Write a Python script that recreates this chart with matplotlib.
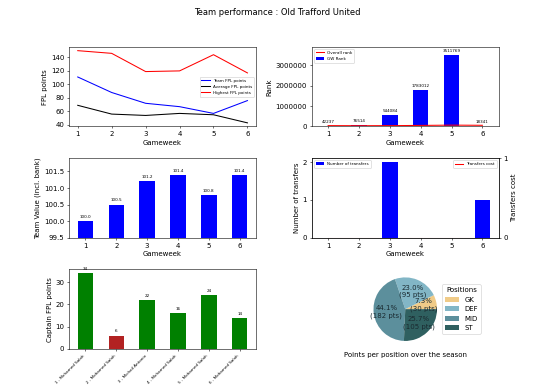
import numpy as np
import matplotlib
matplotlib.use("Agg")
import matplotlib.pyplot as plt
from matplotlib.ticker import MultipleLocator

# Data
gameweeks = [1, 2, 3, 4, 5, 6]
team_points = [111, 88, 72, 67, 57, 76]
average_points = [69, 56, 54, 57, 55, 43]
highest_points = [150, 146, 119, 120, 144, 117]

gw_rank = [42237, 76514, 544084, 1783012, 3511769, 18341]
overall_rank = [42237, 38000, 41000, 52000, 66000, 58000]

team_value = [100.0, 100.5, 101.2, 101.4, 100.8, 101.4]

n_transfers = [0, 0, 2, 0, 0, 1]
transfer_cost = [0, 0, 0, 0, 0, 0]

captain_names = ["1 - Mohamed Salah", "2 - Mohamed Salah", "3 - Michail Antonio",
                 "4 - Mohamed Salah", "5 - Mohamed Salah", "6 - Mohamed Salah"]
captain_points = [34, 6, 22, 16, 24, 14]
captain_colors = ["green", "firebrick", "green", "green", "green", "green"]

positions = ["GK", "DEF", "MID", "ST"]
position_share = [7.3, 23.0, 44.1, 25.7]
position_points = [30, 95, 182, 105]
position_colors = ["#F0CB88", "#82B6C6", "#5C8F9C", "#2F6060"]

fig, axes = plt.subplots(3, 2, figsize=(11.08, 7.84), dpi=50)
plt.subplots_adjust(hspace=0.4, wspace=0.3)
fig.suptitle("Team performance : Old Trafford United")

#Points per gameweek
ax = axes[0, 0]
ax.plot(gameweeks, team_points, color="blue", label="Team FPL points")
ax.plot(gameweeks, average_points, color="black", label="Average FPL points")
ax.plot(gameweeks, highest_points, color="red", label="Highest FPL points")
ax.yaxis.set_major_locator(MultipleLocator(20))
ax.set_xlabel("Gameweek")
ax.set_ylabel("FPL points")
ax.legend(loc="center right", fontsize=6)

#Ranks
ax = axes[0, 1]
ax.plot(gameweeks, overall_rank, color="red", label="Overall rank")
ax.bar(gameweeks, gw_rank, width=0.5, color="blue", label="GW Rank")
for x, v in zip(gameweeks, gw_rank):
    ax.annotate(str(v), (x, v), xytext=(0, 3), textcoords="offset points",
                ha="center", va="bottom", fontsize=6)
ax.set_ylim(0, max(gw_rank) * 1.11)
ax.ticklabel_format(axis="y", style="plain")
ax.set_xlabel("Gameweek")
ax.set_ylabel("Rank")
ax.legend(loc="upper left", fontsize=6)

#Team value
ax = axes[1, 0]
ax.bar(gameweeks, team_value, width=0.5, color="blue")
for x, v in zip(gameweeks, team_value):
    ax.annotate(f"{v:.1f}", (x, v), xytext=(0, 3), textcoords="offset points",
                ha="center", va="bottom", fontsize=6)
ax.set_ylim(99.5, max(team_value) + 0.5)
ax.set_xlabel("Gameweek")
ax.set_ylabel("Team Value (incl. bank)")

#Transfers
ax = axes[1, 1]
ax.bar(gameweeks, n_transfers, width=0.5, color="blue", label="Number of transfers")
ax.set_yticks([0, 1, 2])
ax.set_xlabel("Gameweek")
ax.set_ylabel("Number of transfers")
ax.legend(loc="upper left", fontsize=6)
ax2 = ax.twinx()
ax2.plot(gameweeks, transfer_cost, color="red", label="Transfers cost")
ax2.set_ylim(0, 1)
ax2.set_yticks([0, 1])
ax2.set_ylabel("Transfers cost")
ax2.legend(loc="upper right", fontsize=6)

#Captains
ax = axes[2, 0]
xpos = np.arange(len(captain_points))
ax.bar(xpos, captain_points, width=0.5, color=captain_colors)
for x, v in zip(xpos, captain_points):
    ax.annotate(str(v), (x, v), xytext=(0, 3), textcoords="offset points",
                ha="center", va="bottom", fontsize=6)
ax.set_xticks(xpos)
ax.set_xticklabels(captain_names, rotation=45, ha="right", fontsize=6)
ax.set_ylabel("Captain FPL points")

#Points per position
ax = axes[2, 1]
wedges, _ = ax.pie(position_share, colors=position_colors)
for w, pct, pts in zip(wedges, position_share, position_points):
    ang = np.deg2rad((w.theta1 + w.theta2) / 2)
    ax.text(0.6 * np.cos(ang), 0.6 * np.sin(ang), f"{pct:.1f}%\n({pts} pts)",
            ha="center", va="center", color="#1a2a30")
ax.legend(wedges, positions, title="Positions", loc="center left",
          bbox_to_anchor=(0.92, 0.5))
ax.set_xlabel("Points per position over the season")

plt.savefig("out.png", dpi=50)
